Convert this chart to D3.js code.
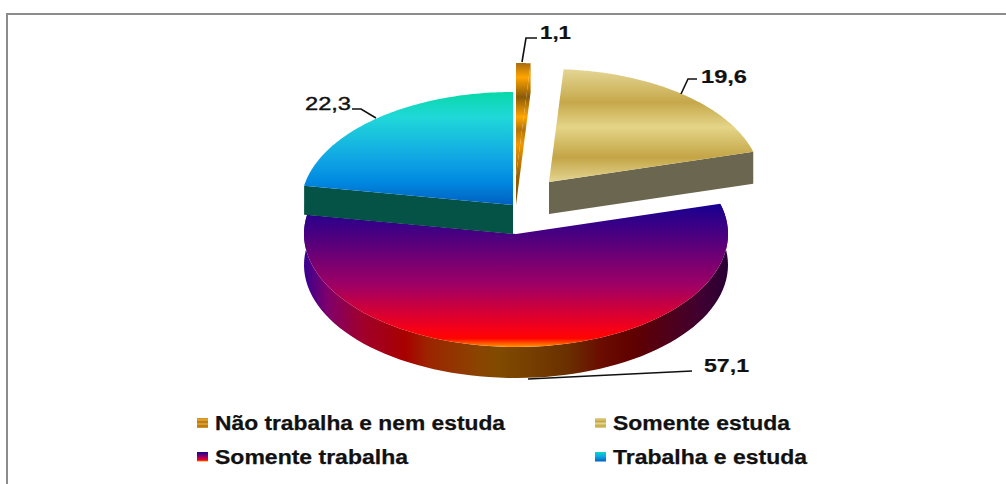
<!DOCTYPE html>
<html><head><meta charset="utf-8">
<script src="https://cdn.jsdelivr.net/npm/d3@7/dist/d3.min.js"></script>
<style>html,body{margin:0;padding:0;background:#fff}svg{display:block}</style>
</head><body><svg id="c" width="1006" height="484"></svg>
<script>
const categories = ["Não trabalha e nem estuda","Somente estuda","Somente trabalha","Trabalha e estuda"];
const values = [1.1,19.6,57.1,22.3];
const valueLabels = ["1,1","19,6","57,1","22,3"];

const svg = d3.select("#c");
const defs = svg.append("defs");
const RX=212, RY=113, DEPTH=[29,32,31,29];
const centers=[[516,176],[549,182],[516,234],[513,205]];

function vgrad(id,stops,y1,y2,units){
  const g=defs.append("linearGradient").attr("id",id).attr("gradientUnits",units||"userSpaceOnUse")
    .attr("x1",0).attr("x2",0).attr("y1",y1).attr("y2",y2);
  stops.forEach(([o,c])=>g.append("stop").attr("offset",o).attr("stop-color",c));
}
function hgrad(id,stops,x1,x2){
  const g=defs.append("linearGradient").attr("id",id).attr("gradientUnits","userSpaceOnUse")
    .attr("y1",0).attr("y2",0).attr("x1",x1).attr("x2",x2);
  stops.forEach(([o,c])=>g.append("stop").attr("offset",o).attr("stop-color",c));
}
vgrad("gO",[[0,"#a86c10"],[.1,"#ffa500"],[.24,"#8a5a08"],[.38,"#ffa500"],[.47,"#b47408"],[.57,"#f09800"],[.8,"#9a6200"],[1,"#7a4c00"]],63,205);
vgrad("gG",[[0,"#e3d592"],[.29,"#c6a84a"],[.51,"#e4d588"],[.78,"#c4a546"],[1,"#e3d592"]],70,182);
vgrad("gP",[[0,"#180090"],[.57,"#a00064"],[.87,"#f50018"],[.94,"#ff0500"],[1,"#ff9800"]],205,347);
vgrad("gT",[[0,"#08d8a8"],[.22,"#20d8d8"],[.6,"#10a4e4"],[.8,"#0088e0"],[1,"#0060c0"]],92,205);
hgrad("wP",[[0,"#3a0090"],[.054,"#80006a"],[.135,"#a0002c"],[.236,"#a80000"],[.29,"#9c2400"],[.41,"#8a4400"],[.46,"#804a00"],[.62,"#6a3000"],[.70,"#6a0c00"],[.775,"#600000"],[.934,"#400030"],[1,"#280034"]],305,728);
const BB="objectBoundingBox";
vgrad("lO",[[0,"#c88a20"],[.2,"#eeaa30"],[.4,"#a87010"],[.6,"#eeaa30"],[.8,"#a87010"],[1,"#e0a030"]],0,1,BB);
vgrad("lG",[[0,"#e3d592"],[.35,"#c6a84a"],[.55,"#e4d588"],[.8,"#c4a546"],[1,"#e3d592"]],0,1,BB);
vgrad("lP",[[0,"#180090"],[.55,"#a00064"],[.85,"#f50018"],[1,"#ff9800"]],0,1,BB);
vgrad("lT",[[0,"#08d8c8"],[.5,"#10a4e4"],[1,"#0060c0"]],0,1,BB);

const topFill=["url(#gO)","url(#gG)","url(#gP)","url(#gT)"];
const wallFill=["url(#gO)","#6b664f","url(#wP)","#055347"];
const legendFill=["url(#lO)","url(#lG)","url(#lP)","url(#lT)"];

// frame
svg.append("path").attr("d","M7,484V14H1006").attr("fill","none").attr("stroke","#8c8c8c").attr("stroke-width",2);

const arcs=d3.pie().sort(null).value(d=>d).startAngle(0).endAngle(2*Math.PI)(values);
// elliptical projection of the pie angles
const px=(i,a)=>centers[i][0]+RX*Math.sin(a);
const py=(i,a,dy=0)=>centers[i][1]-RY*Math.cos(a)+dy;
function rim(i,a0,a1,dy=0){
  return d3.range(0,1.0001,1/80).map(t=>a0+(a1-a0)*t).map(a=>[px(i,a),py(i,a,dy)]);
}
const line=d3.line();
function sector(i){
  const a=arcs[i];
  return line([centers[i],...rim(i,a.startAngle,a.endAngle)])+"Z";
}
const cutEdge=["endAngle","endAngle",null,"startAngle"];
[2,3,0,1].forEach(i=>{
  const a=arcs[i],d=DEPTH[i],g=svg.append("g"),c=centers[i];
  if(i===2){ // curved outer wall
    g.append("path").attr("d",line([...rim(i,a.startAngle,a.endAngle),...rim(i,a.endAngle,a.startAngle,d)])+"Z").attr("fill",wallFill[i]);
  } else { // flat cut face
    const ang=a[cutEdge[i]],e=[px(i,ang),py(i,ang)];
    g.append("path").attr("d",line([c,e,[e[0],e[1]+d],[c[0],c[1]+d]])+"Z").attr("fill",wallFill[i]);
  }
  g.append("path").attr("d",sector(i)).attr("fill",topFill[i]);
});

// leader lines
const leaders=[[[522,62],[526,38],[537,38]],[[681,94],[688,79],[697,79]],[[528,379],[692,371]],[[376,118],[361,109],[352,109]]];
svg.append("g").selectAll("path").data(leaders).join("path")
  .attr("d",d=>line(d)).attr("fill","none").attr("stroke","#111").attr("stroke-width",1.6);

// value labels
const labelPos=[[540,39],[701,83],[704,372],[305,110]];
const labelW=[31,46,45,46];
svg.append("g").selectAll("text").data(valueLabels).join("text")
  .attr("x",(d,i)=>labelPos[i][0]).attr("y",(d,i)=>labelPos[i][1])
  .attr("textLength",(d,i)=>labelW[i]).attr("lengthAdjust","spacingAndGlyphs")
  .attr("font-family","'Liberation Sans',Arial,sans-serif").attr("font-weight",(d,i)=>i===3?"normal":"bold")
  .attr("font-size",19).attr("fill","#111").attr("stroke","#111").attr("stroke-width",(d,i)=>i===3?.4:.2).text(d=>d);

// legend
const legX=d3.scaleOrdinal().domain([0,1]).range([197,595]);
const legY=d3.scaleOrdinal().domain([0,1]).range([418,452]);
const legTextW=[290,177,193,194];
const leg=svg.append("g").selectAll("g").data(categories).join("g")
  .attr("transform",(d,i)=>`translate(${legX(i%2)},${legY(i>>1)})`);
leg.append("rect").attr("width",11).attr("height",(d,i)=>i>>1?9.5:10).attr("fill",(d,i)=>legendFill[i]);
leg.append("text").attr("x",(d,i)=>i%2?18:18).attr("y",12)
  .attr("textLength",(d,i)=>legTextW[i]).attr("lengthAdjust","spacingAndGlyphs")
  .attr("font-family","'Liberation Sans',Arial,sans-serif").attr("font-weight","bold")
  .attr("font-size",19.5).attr("fill","#111").attr("stroke","#111").attr("stroke-width",.25).text(d=>d);
</script></body></html>
